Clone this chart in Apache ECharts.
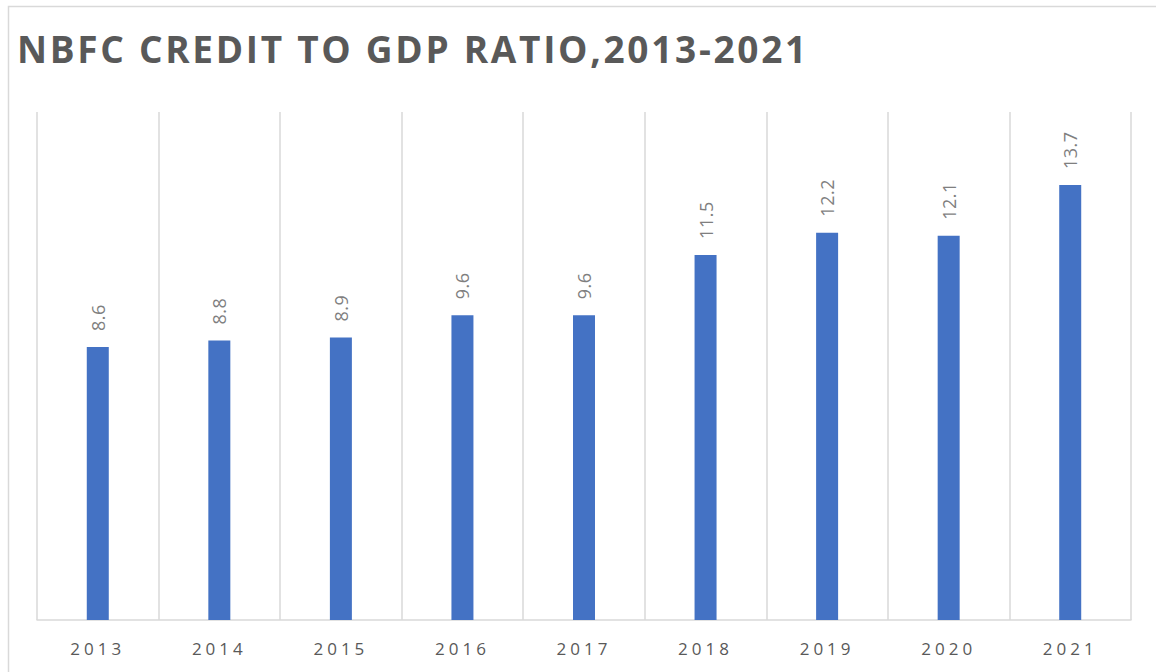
<!DOCTYPE html>
<html><head><meta charset="utf-8">
<script src="https://cdn.jsdelivr.net/npm/echarts@6/dist/echarts.min.js"></script>
<style>html,body{margin:0;padding:0;background:#fff}#c{width:1156px;height:672px}</style>
</head><body><div id="c"></div>
<script>
const titleText = 'NBFC CREDIT TO GDP RATIO,2013-2021';
const years = ['2013','2014','2015','2016','2017','2018','2019','2020','2021'];
const ratio = [8.6, 8.8, 8.9, 9.6, 9.6, 11.5, 12.2, 12.1, 13.7];

const chart = echarts.init(document.getElementById('c'), null, {renderer: 'svg'});
chart.setOption({
  animation: false,
  title: {
    text: titleText, left: 12, top: 25,
    textStyle: {fontFamily: 'Open Sans', fontWeight: 'bold', fontSize: 37, color: '#595959'}
  },
  graphic: [{type: 'rect', shape: {x: 8.5, y: 6.5, width: 1300, height: 800}, style: {fill: 'none', stroke: '#d9d9d9', lineWidth: 1.5}, silent: true}],
  grid: {left: 37, right: 25, top: 112, bottom: 52},
  xAxis: {
    type: 'category', data: years, boundaryGap: true,
    axisLine: {lineStyle: {color: '#d9d9d9', width: 1.5}},
    axisTick: {show: false},
    axisLabel: {color: '#595959', fontSize: 17, fontFamily: 'Open Sans', margin: 20},
    splitLine: {show: true, showMinLine: true, showMaxLine: true, lineStyle: {color: '#d9d9d9', width: 1.5}}
  },
  yAxis: {type: 'value', min: 0, max: 16, show: false, splitLine: {show: false}},
  series: [{
    type: 'bar', data: ratio, barWidth: 22,
    itemStyle: {color: '#4472C4'},
    label: {show: true, position: 'top', rotate: 90, distance: 16, align: 'left', verticalAlign: 'middle',
      color: '#7f7f7f', fontSize: 18, fontFamily: 'Open Sans', formatter: p => p.value.toFixed(1)}
  }]
});

// letter spacing, as in the reference
function spaceOut() {
  document.querySelectorAll('#c svg text').forEach(t => {
    const s = t.textContent;
    if (s === titleText) t.style.letterSpacing = '2.7px';
    else if (years.includes(s)) t.style.letterSpacing = '4px';
    else t.style.letterSpacing = '0.5px';
  });
}
spaceOut();
chart.on('finished', spaceOut);
</script></body></html>
